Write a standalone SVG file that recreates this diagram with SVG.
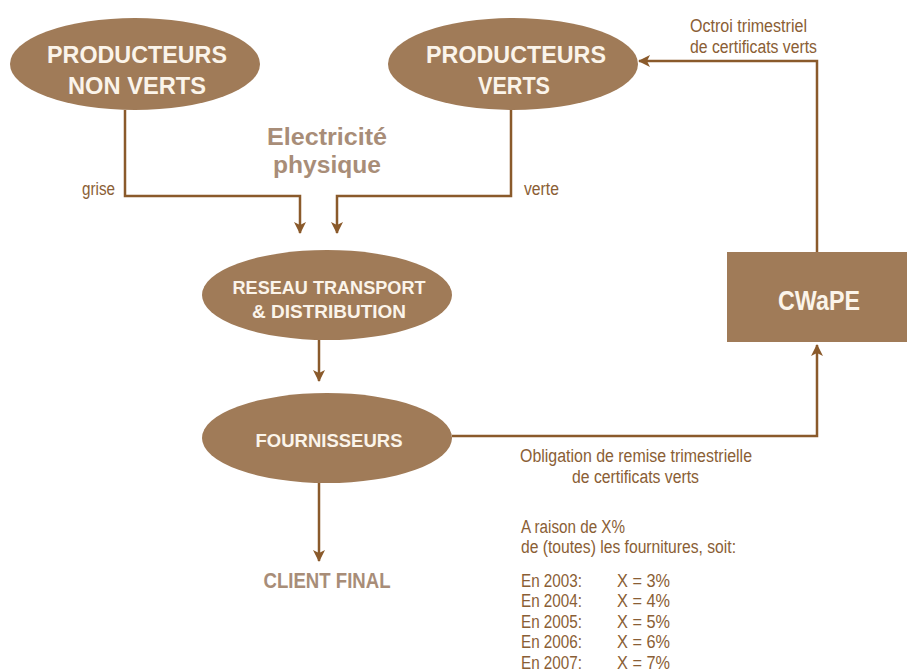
<svg xmlns="http://www.w3.org/2000/svg" width="907" height="672" viewBox="0 0 907 672">
<defs>
<style>
.node{fill:#a07b58;}
.nt{fill:#fbf4ea;font-family:"Liberation Sans",sans-serif;font-weight:bold;text-anchor:middle;}
.lbl{fill:#8a5e35;font-family:"Liberation Sans",sans-serif;font-size:18px;}
.conn{fill:none;stroke:#8a5a2b;stroke-width:2.5;}
.soft{fill:#a88d78;font-family:"Liberation Sans",sans-serif;font-weight:bold;text-anchor:middle;}
</style>
<marker id="ah" viewBox="0 0 12 12" refX="11" refY="6" markerWidth="12" markerHeight="12" markerUnits="userSpaceOnUse" orient="auto">
<path d="M0,0 L12,6 L0,12 L3,6 Z" fill="#8a5a2b"/>
</marker>
</defs>
<rect width="907" height="672" fill="#ffffff"/>
<g id="connectors">
<path class="conn" d="M125,110 V196 H300 V233" marker-end="url(#ah)"/>
<path class="conn" d="M511,110 V196 H337 V233" marker-end="url(#ah)"/>
<path class="conn" d="M319,340 V381" marker-end="url(#ah)"/>
<path class="conn" d="M319,483 V561" marker-end="url(#ah)"/>
<path class="conn" d="M452,436 H817 V345" marker-end="url(#ah)"/>
<path class="conn" d="M817,252 V61 H639" marker-end="url(#ah)"/>
</g>
<g id="producteurs-non-verts">
<ellipse class="node" cx="135" cy="64" rx="125" ry="46"/>
<text class="nt" x="137" y="63" font-size="24" textLength="180" lengthAdjust="spacingAndGlyphs">PRODUCTEURS</text>
<text class="nt" x="137" y="94" font-size="24" textLength="138" lengthAdjust="spacingAndGlyphs">NON VERTS</text>
</g>
<g id="producteurs-verts">
<ellipse class="node" cx="513" cy="64" rx="125" ry="46"/>
<text class="nt" x="516" y="63" font-size="24" textLength="180" lengthAdjust="spacingAndGlyphs">PRODUCTEURS</text>
<text class="nt" x="514" y="94" font-size="24" textLength="72" lengthAdjust="spacingAndGlyphs">VERTS</text>
</g>
<g id="electricite">
<text class="soft" x="327" y="145" font-size="23" textLength="120" lengthAdjust="spacingAndGlyphs">Electricité</text>
<text class="soft" x="327" y="173" font-size="23" textLength="108" lengthAdjust="spacingAndGlyphs">physique</text>
</g>
<text class="lbl" x="82" y="195" textLength="33" lengthAdjust="spacingAndGlyphs">grise</text>
<text class="lbl" x="524" y="195" textLength="35" lengthAdjust="spacingAndGlyphs">verte</text>
<g id="reseau">
<ellipse class="node" cx="327" cy="295" rx="125" ry="45"/>
<text class="nt" x="329" y="294" font-size="19" textLength="193" lengthAdjust="spacingAndGlyphs">RESEAU TRANSPORT</text>
<text class="nt" x="329" y="318" font-size="19" textLength="154" lengthAdjust="spacingAndGlyphs">&amp; DISTRIBUTION</text>
</g>
<g id="fournisseurs">
<ellipse class="node" cx="327" cy="438" rx="125" ry="45"/>
<text class="nt" x="329" y="447" font-size="19" textLength="147" lengthAdjust="spacingAndGlyphs">FOURNISSEURS</text>
</g>
<g id="cwape">
<rect class="node" x="727" y="252" width="185" height="90"/>
<text class="nt" x="819" y="310" font-size="27" textLength="82" lengthAdjust="spacingAndGlyphs">CWaPE</text>
</g>
<g id="client-final">
<text class="soft" x="327" y="588" font-size="22" textLength="127" lengthAdjust="spacingAndGlyphs">CLIENT FINAL</text>
</g>
<text class="lbl" x="690" y="32" textLength="117" lengthAdjust="spacingAndGlyphs">Octroi trimestriel</text>
<text class="lbl" x="690" y="53" textLength="127" lengthAdjust="spacingAndGlyphs">de certificats verts</text>
<text class="lbl" x="520" y="462" textLength="232" lengthAdjust="spacingAndGlyphs">Obligation de remise trimestrielle</text>
<text class="lbl" x="572" y="483" textLength="127" lengthAdjust="spacingAndGlyphs">de certificats verts</text>
<text class="lbl" x="521" y="533" textLength="104" lengthAdjust="spacingAndGlyphs">A raison de X%</text>
<text class="lbl" x="521" y="553" textLength="215" lengthAdjust="spacingAndGlyphs">de (toutes) les fournitures, soit:</text>
<g class="lbl">
<text x="521" y="587" textLength="61" lengthAdjust="spacingAndGlyphs">En 2003:</text><text x="617" y="587" textLength="53" lengthAdjust="spacingAndGlyphs">X = 3%</text>
<text x="521" y="607" textLength="61" lengthAdjust="spacingAndGlyphs">En 2004:</text><text x="617" y="607" textLength="53" lengthAdjust="spacingAndGlyphs">X = 4%</text>
<text x="521" y="628" textLength="61" lengthAdjust="spacingAndGlyphs">En 2005:</text><text x="617" y="628" textLength="53" lengthAdjust="spacingAndGlyphs">X = 5%</text>
<text x="521" y="648" textLength="61" lengthAdjust="spacingAndGlyphs">En 2006:</text><text x="617" y="648" textLength="53" lengthAdjust="spacingAndGlyphs">X = 6%</text>
<text x="521" y="669" textLength="61" lengthAdjust="spacingAndGlyphs">En 2007:</text><text x="617" y="669" textLength="53" lengthAdjust="spacingAndGlyphs">X = 7%</text>
</g>
</svg>
